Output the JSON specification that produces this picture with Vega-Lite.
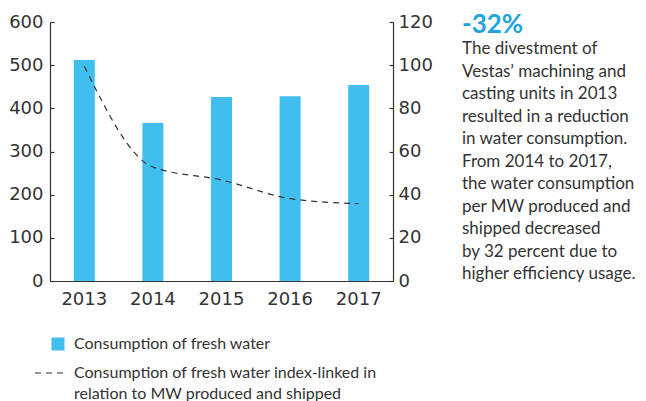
{
  "$schema": "https://vega.github.io/schema/vega-lite/v6.json",
  "width": 343,
  "height": 259,
  "autosize": {"type": "none"},
  "padding": {"left": 50, "top": 22, "right": 253, "bottom": 120},
  "background": "white",
  "config": {
    "view": {"stroke": null},
    "font": "Lato",
    "axis": {"grid": false, "domainColor": "#333", "tickColor": "#333", "labelColor": "#333", "labelFont": "DejaVu Sans", "labelFontSize": 18, "domainWidth": 1.2, "tickWidth": 1.2, "title": null}
  },
  "title": {
    "text": "-32%",
    "subtitle": ["The divestment of", "Vestas’ machining and", "casting units in 2013", "resulted in a reduction", "in water consumption.", "From 2014 to 2017,", "the water consumption", "per MW produced and", "shipped decreased", "by 32 percent due to", "higher efficiency usage."],
    "orient": "top",
    "anchor": "end",
    "frame": "group",
    "align": "left",
    "dx": 69,
    "dy": 273,
    "font": "Lato",
    "fontSize": 26,
    "fontWeight": "bold",
    "color": "#1DA3DE",
    "subtitleFont": "Lato",
    "subtitleFontSize": 17,
    "subtitleColor": "#333",
    "subtitleLineHeight": 22.5,
    "subtitlePadding": 3
  },
  "data": {
    "values": [
      {"year": "2013", "water": 512, "index": 99.5},
      {"year": "2014", "water": 366, "index": 52.8},
      {"year": "2015", "water": 426, "index": 46.8},
      {"year": "2016", "water": 428, "index": 38.2},
      {"year": "2017", "water": 454, "index": 35.8}
    ]
  },
  "encoding": {
    "x": {
      "field": "year",
      "type": "ordinal",
      "scale": {"paddingInner": 0, "paddingOuter": 0},
      "axis": {"labelAngle": 0, "ticks": false, "labelPadding": 9, "labelBaseline": "top"}
    }
  },
  "layer": [
    {
      "mark": {"type": "bar", "size": 21},
      "encoding": {
        "y": {
          "field": "water",
          "type": "quantitative",
          "scale": {"domain": [0, 600]},
          "axis": {"orient": "left", "values": [0, 100, 200, 300, 400, 500, 600], "tickSize": -4, "labelPadding": 11}
        },
        "fill": {
          "datum": "Consumption of fresh water",
          "type": "nominal",
          "scale": {"range": ["#40BFEF"]},
          "legend": {"orient": "none", "legendX": 0, "legendY": 314, "title": null, "symbolType": "square", "symbolSize": 169, "symbolStrokeWidth": 0, "labelFont": "Lato", "labelFontSize": 16, "labelColor": "#333", "labelOffset": 8, "labelLimit": 500, "padding": 0}
        }
      }
    },
    {
      "mark": {"type": "line", "color": "#333", "strokeWidth": 1.2, "interpolate": "monotone"},
      "encoding": {
        "y": {
          "field": "index",
          "type": "quantitative",
          "scale": {"domain": [0, 120]},
          "axis": {"orient": "right", "values": [0, 20, 40, 60, 80, 100, 120], "tickSize": -4, "labelPadding": 9}
        },
        "strokeDash": {
          "datum": "Consumption of fresh water index-linked in relation to MW produced and shipped",
          "type": "nominal",
          "scale": {"range": [[6, 5]]},
          "legend": {
            "orient": "none", "legendX": -16, "legendY": 334, "title": null,
            "symbolType": "stroke", "symbolSize": 1024, "symbolStrokeColor": "#333", "symbolStrokeWidth": 1.2,
            "labelFont": "Lato", "labelFontSize": 16, "labelColor": "#333", "labelOffset": 6, "labelLimit": 500, "padding": 0,
            "labelBaseline": "middle",
            "labelExpr": "['Consumption of fresh water index-linked in', 'relation to MW produced and shipped']",
            "encode": {"labels": {"update": {"lineHeight": {"value": 21}}}}
          }
        }
      }
    }
  ],
  "resolve": {"scale": {"y": "independent"}}
}
